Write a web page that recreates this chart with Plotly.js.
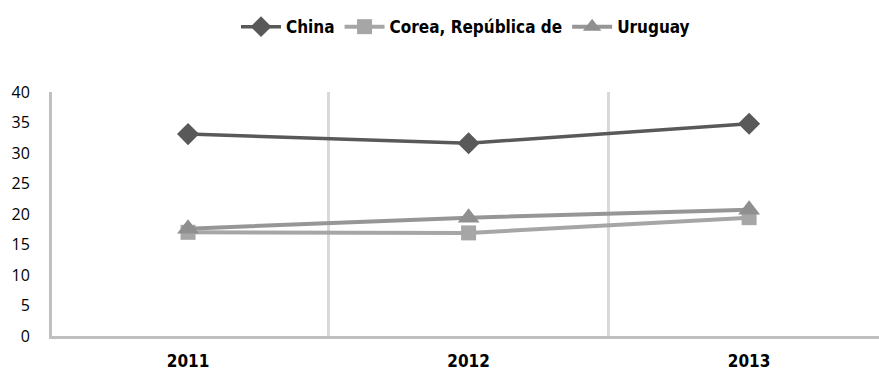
<!DOCTYPE html>
<html>
<head>
<meta charset="utf-8">
<script src="https://cdn.plot.ly/plotly-3.0.1.min.js"></script>
<style>html,body{margin:0;padding:0;background:#fff;}#chart{width:879px;height:380px;}</style>
</head>
<body>
<div id="chart"></div>
<script>
const years = ['2011', '2012', '2013'];
const china = [33.1, 31.6, 34.8];
const corea = [17.0, 16.9, 19.4];
const uruguay = [17.6, 19.4, 20.7];
const yTicks = [0, 5, 10, 15, 20, 25, 30, 35, 40];

const xIdx = years.map((_, i) => i);
const boldFont = '"DejaVu Sans Condensed", "DejaVu Sans", sans-serif';

const traces = [
  {name: 'China', x: xIdx, y: china, mode: 'lines+markers',
   line: {color: '#595959', width: 3.5},
   marker: {symbol: 'diamond', size: 17, color: '#595959'}},
  {name: 'Corea, República de', x: xIdx, y: corea, mode: 'lines+markers',
   line: {color: '#a6a6a6', width: 4},
   marker: {symbol: 'square', size: 15, color: '#a6a6a6'}},
  {name: 'Uruguay', x: xIdx, y: uruguay, mode: 'lines+markers',
   line: {color: '#969696', width: 4},
   marker: {symbol: 'triangle-up', size: 19, color: '#8f8f8f'}}
];

const layout = {
  width: 879, height: 380,
  margin: {l: 52, r: 0, t: 92, b: 44, autoexpand: false},
  paper_bgcolor: '#fff', plot_bgcolor: '#fff',
  showlegend: true,
  legend: {orientation: 'h', x: 0.5, xanchor: 'center', y: 1.266, yanchor: 'middle',
           font: {family: boldFont, size: 17, color: '#000', weight: 'bold'},
           itemwidth: 40, traceorder: 'normal'},
  xaxis: {
    range: [-0.485, 2.463], tickmode: 'array', tickvals: xIdx, ticktext: years,
    showgrid: false, zeroline: false, showline: true, linecolor: '#c0c0c0', linewidth: 3,
    ticks: 'outside', ticklen: 8, tickcolor: 'rgba(0,0,0,0)',
    tickfont: {family: boldFont, size: 17, color: '#000', weight: 'bold'},
    minor: {tickmode: 'array', tickvals: [0.5, 1.5], showgrid: true, gridcolor: '#d9d9d9', gridwidth: 3, ticks: ''},
    fixedrange: true
  },
  yaxis: {
    range: [0, 40], tickmode: 'array', tickvals: yTicks,
    showgrid: false, zeroline: false, showline: true, linecolor: '#c0c0c0', linewidth: 3,
    ticks: 'outside', ticklen: 16, tickcolor: 'rgba(0,0,0,0)',
    tickfont: {family: '"Open Sans", "Noto Sans", sans-serif', size: 16, color: '#000'},
    fixedrange: true
  }
};

Plotly.newPlot('chart', traces, layout, {displayModeBar: false, staticPlot: true});
</script>
</body>
</html>
